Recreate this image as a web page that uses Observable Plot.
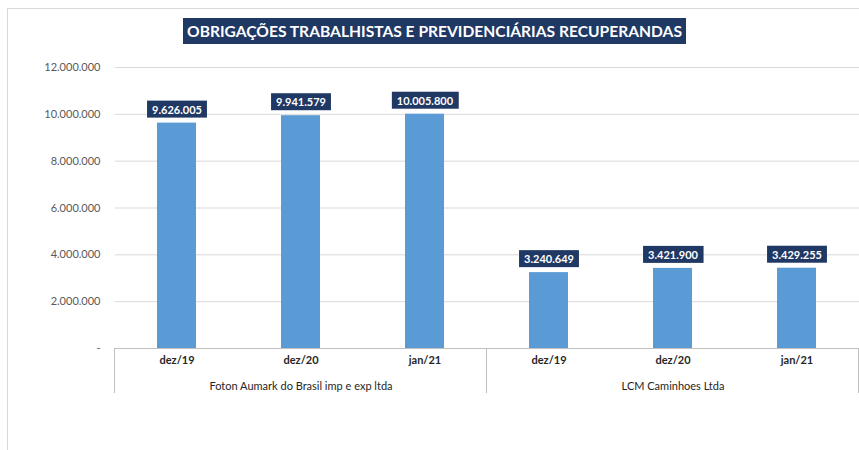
<!DOCTYPE html>
<html><head><meta charset="utf-8">
<script src="https://cdn.jsdelivr.net/npm/d3@7"></script>
<script src="https://cdn.jsdelivr.net/npm/@observablehq/plot@0.6"></script>
<style>
body{margin:0;background:#fff;font-family:Lato,sans-serif}
#wrap{position:relative;width:859px;height:450px;overflow:hidden}
#border{position:absolute;left:7px;top:8px;width:900px;height:500px;border-left:1px solid #d9d9d9;border-top:1px solid #d9d9d9;box-sizing:border-box}
#title{position:absolute;left:183px;top:18px;width:503px;height:26px;background:#203864;color:#fff;font:bold 15.6px Lato,sans-serif;display:flex;align-items:center;justify-content:center;white-space:nowrap;z-index:2}
#chart{position:absolute;left:0;top:0}
</style>
</head><body>
<div id="wrap"><div id="border"></div><div id="title">OBRIGAÇÕES TRABALHISTAS E PREVIDENCIÁRIAS RECUPERANDAS</div><div id="chart"></div></div>
<script>
const companies = ["Foton Aumark do Brasil imp e exp ltda", "LCM Caminhoes Ltda"];
const months = ["dez/19", "dez/20", "jan/21"];
const fotonValues = [9626005, 9941579, 10005800];
const lcmValues = [3240649, 3421900, 3429255];
const yTicks = [0, 2000000, 4000000, 6000000, 8000000, 10000000, 12000000];

const series = [fotonValues, lcmValues];
const data = companies.flatMap((c, i) => months.map((m, j) => ({company: c, month: m, key: c + "|" + m, value: series[i][j]})));
const groups = companies.map(c => ({company: c, mid: c + "|" + months[1], first: c + "|" + months[0], last: c + "|" + months[months.length - 1]}));

const fmt = v => v === 0 ? "-" : d3.format(",")(v).replace(/,/g, ".");

const chart = Plot.plot({
  width: 859, height: 450,
  marginLeft: 115, marginRight: 0, marginTop: 67, marginBottom: 102,
  style: {fontFamily: "Lato, sans-serif", background: "transparent"},
  x: {domain: data.map(d => d.key), paddingInner: 0.685, paddingOuter: 0.3425, axis: null},
  y: {domain: [0, 12000000], axis: null},
  marks: [
    Plot.gridY(yTicks.filter(v => v > 0), {stroke: "#d9d9d9", strokeOpacity: 1}),
    Plot.axisY(yTicks, {tickSize: 0, tickPadding: 15, tickFormat: fmt, fontSize: 11, fill: "#595959", label: null}),
    Plot.barY(data, {x: "key", y: "value", fill: "#5b9bd5"}),
    Plot.ruleY([0], {stroke: "#bfbfbf"}),
    Plot.axisX({tickSize: 0, tickPadding: 8, tickFormat: k => k.split("|")[1], fontWeight: "bold", fontSize: 11, fill: "#262626", label: null}),
    Plot.text(groups, {x: "mid", y: () => 0, text: "company", dy: 38, fontSize: 11, fill: "#262626"}),
    Plot.text(data, {x: "key", y: "value", text: d => fmt(d.value), dy: -13, fill: "white", fontWeight: "bold", fontSize: 11, className: "vlabel"})
  ]
});
document.getElementById("chart").appendChild(chart);

// value label boxes
d3.select(chart).selectAll(".vlabel text").each(function() {
  const b = this.getBBox();
  const t = this.getAttribute("transform");
  const r = document.createElementNS("http://www.w3.org/2000/svg", "rect");
  r.setAttribute("x", b.x - 5); r.setAttribute("y", b.y - 2);
  r.setAttribute("width", b.width + 10); r.setAttribute("height", b.height + 4);
  r.setAttribute("fill", "#203864");
  if (t) r.setAttribute("transform", t);
  this.parentNode.insertBefore(r, this);
});

// category group separators
const xs = chart.scale("x"), ys = chart.scale("y");
const half = (xs.step - xs.bandwidth) / 2;
const bounds = [xs.apply(groups[0].first) - half, ...groups.map(g => xs.apply(g.last) + xs.bandwidth + half)];
const y0 = ys.apply(0);
d3.select(chart).append("g").selectAll("line").data(bounds).join("line")
  .attr("x1", d => Math.min(d, 858.5)).attr("x2", d => Math.min(d, 858.5))
  .attr("y1", y0).attr("y2", y0 + 45).attr("stroke", "#bfbfbf");
</script>
</body></html>
